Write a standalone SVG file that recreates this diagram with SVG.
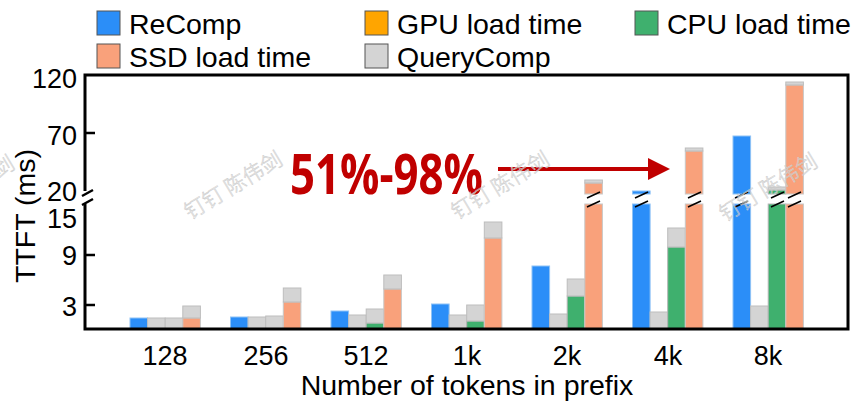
<svg xmlns="http://www.w3.org/2000/svg" width="854" height="404" viewBox="0 0 854 404">
  <style>
    .lbl { font-family: "Liberation Sans", Arial, sans-serif; fill: #000; }
    .tick { font-size: 27px; }
    .big { font-size: 28.5px; }
    .axis { stroke: #000; stroke-width: 3; fill: none; }
    .tk { stroke: #000; stroke-width: 2.5; }
    .re { fill: #2b8ef8; stroke: #8ec2f5; stroke-width: 1; }
    .cpu { fill: #3fb06e; stroke: #b5b5b5; stroke-width: 1; }
    .ssd { fill: #f9a17b; stroke: #c8c8c8; stroke-width: 1; }
    .qc { fill: #d4d4d4; stroke: #bdbdbd; stroke-width: 1; }
    .brk { stroke: #000; stroke-width: 1.6; }
    .wm { font-family: "Noto Sans CJK SC", sans-serif; font-size: 21px; font-weight: 300; fill: none; stroke: #cdcdcd; stroke-width: 0.6; }
  </style>

  <!-- legend -->
  <g id="legend" class="lbl big">
    <rect x="97" y="11" width="23" height="24" fill="#2b8ef8" stroke="#555" stroke-width="1"/>
    <text x="129" y="34">ReComp</text>
    <rect x="365" y="11" width="23" height="24" fill="#ffa500" stroke="#555" stroke-width="1"/>
    <text x="397" y="34">GPU load time</text>
    <rect x="635" y="11" width="23" height="24" fill="#3fb06e" stroke="#555" stroke-width="1"/>
    <text x="667" y="34">CPU load time</text>
    <rect x="97" y="44" width="23" height="24" fill="#f9a17b" stroke="#555" stroke-width="1"/>
    <text x="129" y="67">SSD load time</text>
    <rect x="365" y="44" width="23" height="24" fill="#d4d4d4" stroke="#555" stroke-width="1"/>
    <text x="397" y="67">QueryComp</text>
  </g>

  <!-- y axis labels -->
  <g id="y-axis" class="lbl tick" text-anchor="end">
    <text x="77" y="88">120</text>
    <text x="77" y="145">70</text>
    <text x="77" y="201">20</text>
    <text x="77" y="228">15</text>
    <text x="77" y="265">9</text>
    <text x="77" y="316">3</text>
    <text class="big" text-anchor="middle" transform="translate(35,216) rotate(-90)">TTFT (ms)</text>
  </g>

  <!-- x axis labels -->
  <g id="x-axis" class="lbl tick" text-anchor="middle">
    <text x="165" y="365">128</text>
    <text x="266" y="365">256</text>
    <text x="366" y="365">512</text>
    <text x="467" y="365">1k</text>
    <text x="567" y="365">2k</text>
    <text x="668" y="365">4k</text>
    <text x="768" y="365">8k</text>
    <text class="big" x="467" y="395">Number of tokens in prefix</text>
  </g>

  <!-- bars: 128 -->
  <g id="g128">
    <rect class="re" x="130" y="318" width="17.6" height="11"/>
    <rect class="qc" x="147.6" y="318" width="17.6" height="11"/>
    <rect class="qc" x="165.2" y="318" width="17.6" height="11"/>
    <rect class="ssd" x="182.8" y="318" width="17.6" height="11"/>
    <rect class="qc" x="182.8" y="306" width="17.6" height="12"/>
  </g>
  <!-- bars: 256 -->
  <g id="g256">
    <rect class="re" x="230.5" y="317" width="17.6" height="12"/>
    <rect class="qc" x="248.1" y="317" width="17.6" height="12"/>
    <rect class="qc" x="265.7" y="316" width="17.6" height="13"/>
    <rect class="ssd" x="283.3" y="302" width="17.6" height="27"/>
    <rect class="qc" x="283.3" y="288" width="17.6" height="14"/>
  </g>
  <!-- bars: 512 -->
  <g id="g512">
    <rect class="re" x="331" y="311" width="17.6" height="18"/>
    <rect class="qc" x="348.6" y="315" width="17.6" height="14"/>
    <rect class="cpu" x="366.2" y="323" width="17.6" height="6"/>
    <rect class="qc" x="366.2" y="309" width="17.6" height="14"/>
    <rect class="ssd" x="383.8" y="289" width="17.6" height="40"/>
    <rect class="qc" x="383.8" y="275" width="17.6" height="14"/>
  </g>
  <!-- bars: 1k -->
  <g id="g1k">
    <rect class="re" x="431.5" y="304" width="17.6" height="25"/>
    <rect class="qc" x="449.1" y="315" width="17.6" height="14"/>
    <rect class="cpu" x="466.7" y="321" width="17.6" height="8"/>
    <rect class="qc" x="466.7" y="305" width="17.6" height="16"/>
    <rect class="ssd" x="484.3" y="238" width="17.6" height="91"/>
    <rect class="qc" x="484.3" y="222" width="17.6" height="16"/>
  </g>
  <!-- bars: 2k -->
  <g id="g2k">
    <rect class="re" x="532" y="266" width="17.6" height="63"/>
    <rect class="qc" x="549.6" y="314" width="17.6" height="15"/>
    <rect class="cpu" x="567.2" y="296" width="17.6" height="33"/>
    <rect class="qc" x="567.2" y="279" width="17.6" height="17"/>
    <rect class="ssd" x="584.8" y="204" width="17.6" height="125"/>
    <rect class="ssd" x="584.8" y="183" width="17.6" height="11"/>
    <rect class="qc" x="584.8" y="180" width="17.6" height="3"/>
  </g>
  <!-- bars: 4k -->
  <g id="g4k">
    <rect class="re" x="632.5" y="204" width="17.6" height="125"/>
    <rect class="re" x="632.5" y="191" width="17.6" height="3"/>
    <rect class="qc" x="650.1" y="312" width="17.6" height="17"/>
    <rect class="cpu" x="667.7" y="247" width="17.6" height="82"/>
    <rect class="qc" x="667.7" y="228" width="17.6" height="19"/>
    <rect class="ssd" x="685.3" y="204" width="17.6" height="125"/>
    <rect class="ssd" x="685.3" y="151" width="17.6" height="43"/>
    <rect class="qc" x="685.3" y="148" width="17.6" height="3"/>
  </g>
  <!-- bars: 8k -->
  <g id="g8k">
    <rect class="re" x="733" y="204" width="17.6" height="125"/>
    <rect class="re" x="733" y="136" width="17.6" height="58"/>
    <rect class="qc" x="750.6" y="306" width="17.6" height="23"/>
    <rect class="cpu" x="768.2" y="204" width="17.6" height="125"/>
    <rect class="cpu" x="768.2" y="190" width="17.6" height="4"/>
    <rect class="qc" x="768.2" y="187" width="17.6" height="3"/>
    <rect class="ssd" x="785.8" y="204" width="17.6" height="125"/>
    <rect class="ssd" x="785.8" y="85" width="17.6" height="109"/>
    <rect class="qc" x="785.8" y="82" width="17.6" height="3"/>
  </g>

  <!-- broken-bar marks -->
  <g id="breaks" class="brk">
    <path d="M587,198 L600,192 M587,207 L600,201"/>
    <path d="M635,198 L648,192 M635,207 L648,201"/>
    <path d="M688,198 L701,192 M688,207 L701,201"/>
    <path d="M735,198 L748,192 M735,207 L748,201"/>
    <path d="M771,198 L784,192 M771,207 L784,201"/>
    <path d="M788,198 L801,192 M788,207 L801,201"/>
  </g>

  <!-- frame and ticks -->
  <g id="frame">
    <path class="axis" d="M85,191 V75 H848 V329 H85 V204"/>
    <path class="tk" d="M82,196 L93,190 M82,205 L93,199" stroke-width="1.8"/>
    <path class="tk" d="M85,133 H95 M85,255 H95 M85,305 H95"/>
  </g>

  <!-- annotation arrow -->
  <g id="connectors">
    <line x1="498" y1="169" x2="650" y2="169" stroke="#c00000" stroke-width="4"/>
    <polygon points="648,158 670,169 648,180" fill="#c00000"/>
  </g>
  <g id="note">
    <text x="290" y="194" font-family="'Open Sans', 'Noto Sans', sans-serif" font-weight="bold" font-size="56" fill="#c00000" textLength="193" lengthAdjust="spacingAndGlyphs">51%-98%</text>
  </g>

  <!-- watermark -->
  <g id="watermark" class="wm">
    <text transform="translate(-78,224) rotate(-31)">钉钉 陈伟剑</text>
    <text transform="translate(190,220) rotate(-31)">钉钉 陈伟剑</text>
    <text transform="translate(457,220) rotate(-31)">钉钉 陈伟剑</text>
    <text transform="translate(725,222) rotate(-31)">钉钉 陈伟剑</text>
  </g>
</svg>
